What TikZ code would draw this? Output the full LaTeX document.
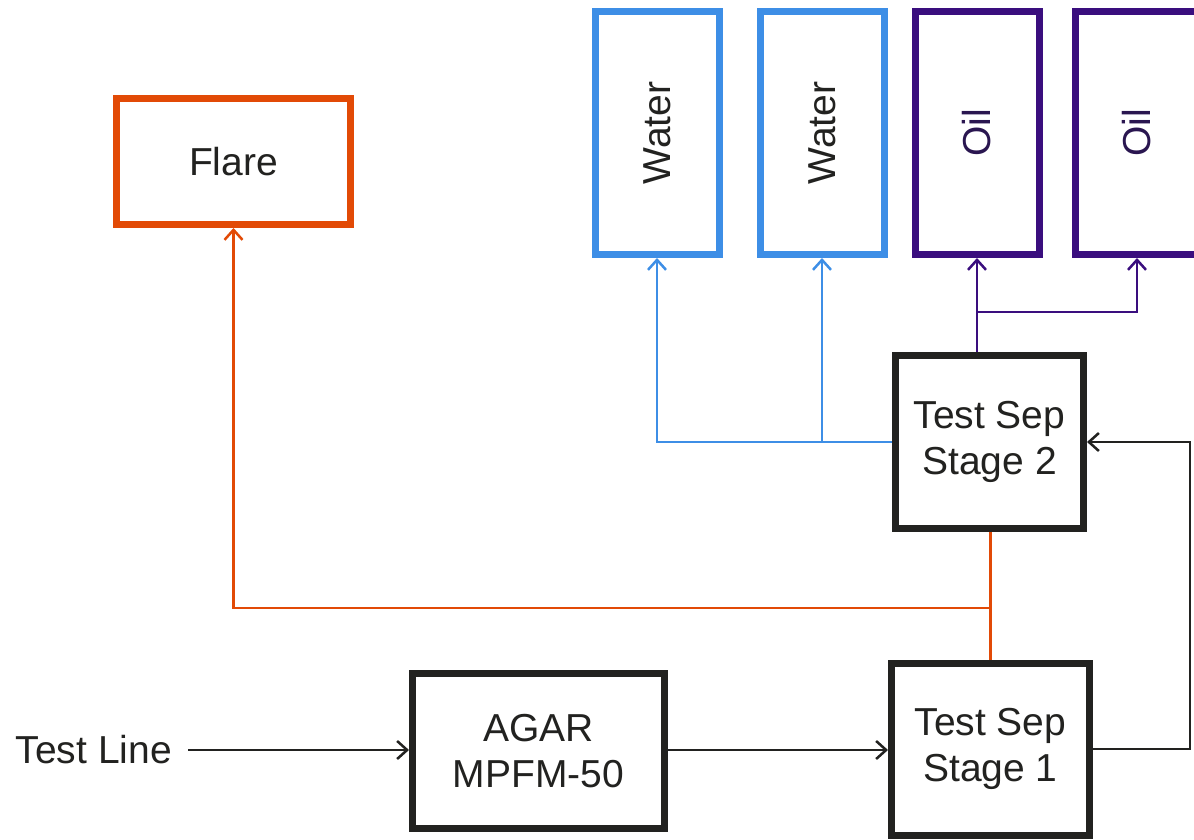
\documentclass[tikz,border=0pt]{standalone}
\usepackage{fontspec}
\setmainfont{Liberation Sans}
\usetikzlibrary{arrows.meta}
\definecolor{flareor}{HTML}{E24A06}
\definecolor{waterbl}{HTML}{3D8EE6}
\definecolor{oilpu}{HTML}{3A0E7E}
\definecolor{oiltext}{HTML}{2A1650}
\definecolor{inkk}{HTML}{222220}
\begin{document}
\begin{tikzpicture}[x=1pt,y=-1pt,
  every node/.style={font=\fontsize{39}{46}\selectfont, text=inkk},
  boxk/.style={draw=inkk, line width=7pt, inner sep=0pt, align=center},
  boxo/.style={draw=flareor, line width=7pt, inner sep=0pt, align=center},
  boxb/.style={draw=waterbl, line width=7pt, inner sep=0pt, minimum width=243pt, minimum height=124pt, rotate=90},
  boxp/.style={draw=oilpu, line width=7pt, inner sep=0pt, minimum width=243pt, minimum height=124pt, rotate=90, text=oiltext},
  tip/.style={-{Straight Barb[length=10pt,width=18pt,line width=2.5pt]}},
  lk/.style={draw=inkk, line width=2.5pt},
  lo/.style={draw=flareor, line width=2.8pt},
  lb/.style={draw=waterbl, line width=2.8pt},
  lp/.style={draw=oilpu, line width=2.8pt}]
\useasboundingbox (0,0) rectangle (1194,840);
\fill[white] (0,0) rectangle (1194,840);
% nodes
\node[boxo, minimum width=234pt, minimum height=126pt] (flare) at (233.5,161.5) {Flare};
\node[boxb] (w1) at (657,133) {Water};
\node[boxb] (w2) at (822,133) {Water};
\node[boxp] (o1) at (977,133) {Oil};
\node[boxp] (o2) at (1137,133) {Oil};
\node[boxk, minimum width=188pt, minimum height=173pt] (s2) at (989.5,442) {Test Sep\\Stage 2};
\node[boxk, minimum width=198pt, minimum height=172pt] (s1) at (990.5,749) {Test Sep\\Stage 1};
\node[boxk, minimum width=252pt, minimum height=155pt] (agar) at (538.5,751) {AGAR\\MPFM-50};
\node[anchor=east, inner sep=0pt] (tl) at (172,750) {Test Line};
\coordinate (tls) at (188,750);
\coordinate (ret) at (1190,0);
\coordinate (oilbr) at (0,312);
\coordinate (flbr) at (0,608);
% connectors
\draw[lk,tip] (tls) -- (tls -| agar.west);
\draw[lk,tip] (agar.east |- tls) -- (tls -| s1.west);
\draw[lk,tip] (s1.east) -- (s1.east -| ret) |- (s2.east);
\draw[lp,tip] (o1.west |- s2.north) -- (o1.west);
\draw[lp,tip] (o1.west |- oilbr) -- (o2.west |- oilbr) -- (o2.west);
\draw[lb,tip] (s2.west) -- (s2.west -| w1.west) -- (w1.west);
\draw[lb,tip] (s2.west -| w2.west) -- (w2.west);
\draw[lo] (s1.north) -- (s1.north |- s2.south);
\draw[lo,tip] (s1.north |- flbr) -- (flare.south |- flbr) -- (flare.south);
\end{tikzpicture}
\end{document}
